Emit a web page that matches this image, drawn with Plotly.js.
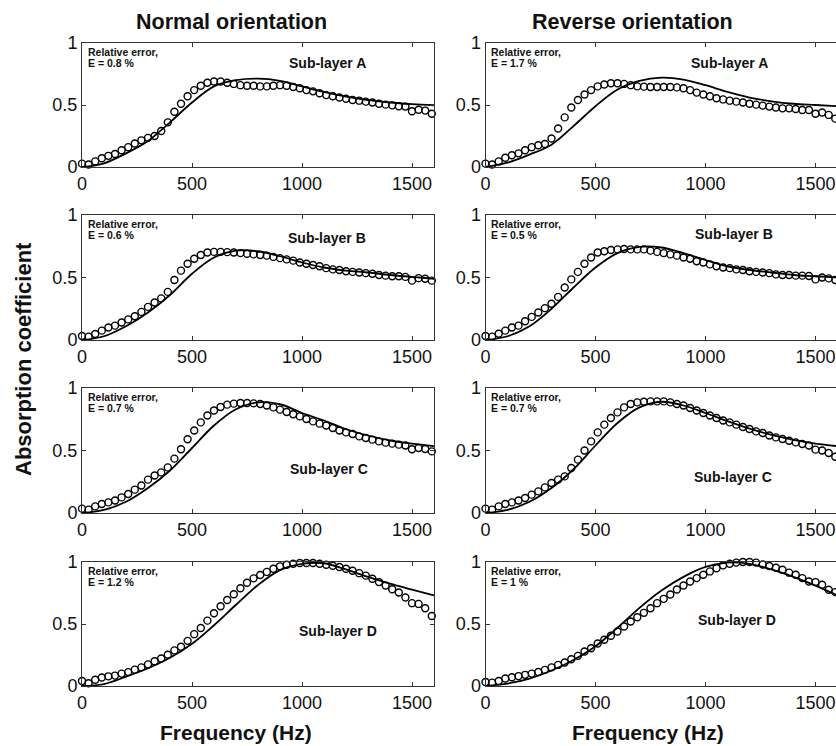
<!DOCTYPE html>
<html>
<head>
<meta charset="utf-8">
<script src="https://cdn.plot.ly/plotly-3.0.1.min.js"></script>
<style>html,body{margin:0;padding:0;background:#fff;}#chart{width:836px;height:746px;}</style>
</head>
<body>
<div id="chart"></div>
<script>
// Measured frequencies (Hz)
const freq = [0,30,60,90,120,150,180,210,240,270,300,330,360,390,420,450,480,510,540,570,600,630,660,690,720,750,780,810,840,870,900,930,960,990,1020,1050,1080,1110,1140,1170,1200,1230,1260,1290,1320,1350,1380,1410,1440,1470,1500,1530,1560,1590];
// Model frequencies (Hz)
const modelFreq = [0,100,200,300,400,500,600,700,800,900,1000,1100,1200,1300,1400,1500,1600];

// Normal orientation – measured (circles)
const measA_N = [0.027,0.02,0.045,0.07,0.09,0.105,0.135,0.16,0.19,0.215,0.235,0.25,0.29,0.36,0.445,0.51,0.57,0.62,0.655,0.68,0.69,0.69,0.68,0.67,0.66,0.655,0.655,0.65,0.65,0.655,0.66,0.655,0.645,0.635,0.62,0.61,0.595,0.58,0.57,0.56,0.55,0.54,0.535,0.527,0.52,0.51,0.503,0.497,0.49,0.487,0.45,0.462,0.455,0.43];
const measB_N = [0.032,0.027,0.048,0.075,0.1,0.115,0.14,0.165,0.19,0.225,0.265,0.3,0.333,0.385,0.48,0.555,0.61,0.65,0.68,0.7,0.705,0.705,0.703,0.7,0.695,0.69,0.685,0.68,0.675,0.665,0.655,0.645,0.635,0.62,0.61,0.6,0.59,0.575,0.565,0.56,0.55,0.545,0.54,0.535,0.53,0.52,0.515,0.51,0.51,0.505,0.475,0.495,0.49,0.475];
const measC_N = [0.035,0.027,0.053,0.072,0.085,0.1,0.125,0.152,0.187,0.22,0.267,0.3,0.325,0.365,0.435,0.51,0.59,0.66,0.725,0.78,0.82,0.848,0.867,0.875,0.88,0.88,0.877,0.872,0.86,0.845,0.827,0.808,0.79,0.773,0.752,0.733,0.715,0.7,0.68,0.66,0.645,0.632,0.613,0.6,0.587,0.573,0.563,0.555,0.547,0.54,0.51,0.52,0.512,0.493];
const measD_N = [0.04,0.022,0.05,0.068,0.078,0.084,0.1,0.112,0.132,0.15,0.174,0.2,0.222,0.252,0.287,0.317,0.364,0.418,0.468,0.527,0.587,0.643,0.694,0.74,0.788,0.833,0.868,0.895,0.92,0.946,0.965,0.978,0.986,0.992,0.992,0.992,0.986,0.978,0.97,0.96,0.946,0.93,0.91,0.89,0.865,0.838,0.81,0.78,0.754,0.714,0.668,0.662,0.627,0.565];

// Normal orientation – model (lines)
const modelA_N = [0,0.03,0.11,0.21,0.36,0.52,0.65,0.7,0.712,0.695,0.65,0.605,0.567,0.54,0.52,0.507,0.498];
const modelB_N = [0,0.03,0.11,0.22,0.36,0.53,0.66,0.715,0.71,0.67,0.62,0.58,0.555,0.54,0.52,0.505,0.49];
const modelC_N = [0,0.025,0.09,0.2,0.34,0.52,0.7,0.83,0.885,0.87,0.8,0.74,0.67,0.62,0.58,0.555,0.535];
const modelD_N = [0,0.016,0.075,0.143,0.228,0.34,0.49,0.655,0.815,0.935,0.985,0.99,0.94,0.88,0.825,0.777,0.73];

// Reverse orientation – measured (circles)
const measA_R = [0.027,0.02,0.045,0.075,0.095,0.11,0.135,0.16,0.175,0.185,0.23,0.31,0.4,0.48,0.54,0.585,0.62,0.65,0.665,0.675,0.675,0.67,0.66,0.65,0.648,0.645,0.645,0.645,0.645,0.642,0.635,0.62,0.6,0.585,0.57,0.555,0.545,0.535,0.527,0.52,0.51,0.503,0.495,0.487,0.48,0.473,0.473,0.468,0.46,0.46,0.43,0.44,0.42,0.39];
const measB_R = [0.032,0.027,0.05,0.075,0.1,0.115,0.15,0.185,0.22,0.255,0.29,0.345,0.42,0.485,0.545,0.61,0.66,0.7,0.71,0.72,0.725,0.728,0.725,0.725,0.725,0.715,0.705,0.695,0.685,0.675,0.66,0.65,0.63,0.62,0.605,0.59,0.58,0.575,0.565,0.56,0.55,0.545,0.54,0.535,0.525,0.52,0.52,0.515,0.515,0.512,0.485,0.5,0.493,0.48];
const measC_R = [0.035,0.027,0.053,0.072,0.085,0.1,0.12,0.147,0.173,0.205,0.24,0.267,0.293,0.36,0.427,0.5,0.573,0.645,0.707,0.76,0.805,0.845,0.872,0.885,0.89,0.893,0.893,0.893,0.885,0.872,0.86,0.84,0.82,0.8,0.78,0.76,0.74,0.725,0.707,0.688,0.672,0.653,0.64,0.62,0.605,0.592,0.578,0.565,0.552,0.54,0.507,0.5,0.48,0.45];
const measD_R = [0.032,0.027,0.04,0.06,0.07,0.08,0.09,0.1,0.113,0.13,0.15,0.17,0.19,0.216,0.243,0.278,0.305,0.343,0.373,0.405,0.44,0.48,0.52,0.554,0.59,0.627,0.668,0.703,0.738,0.778,0.81,0.843,0.87,0.897,0.924,0.95,0.973,0.986,0.995,1.0,1.0,0.995,0.98,0.968,0.954,0.938,0.914,0.897,0.87,0.843,0.838,0.816,0.776,0.757];

// Reverse orientation – model (lines)
const modelA_R = [0,0.035,0.1,0.18,0.33,0.49,0.625,0.695,0.72,0.705,0.66,0.605,0.56,0.53,0.51,0.5,0.49];
const modelB_R = [0,0.03,0.11,0.25,0.42,0.58,0.695,0.745,0.74,0.695,0.64,0.59,0.56,0.54,0.52,0.51,0.5];
const modelC_R = [0,0.025,0.09,0.2,0.35,0.54,0.72,0.845,0.89,0.86,0.8,0.735,0.675,0.625,0.585,0.555,0.535];
const modelD_R = [0,0.02,0.06,0.125,0.21,0.32,0.47,0.63,0.77,0.88,0.96,0.995,0.985,0.94,0.88,0.81,0.73];

// Labels
const columnTitles = ['Normal orientation', 'Reverse orientation'];
const layerNames = ['Sub-layer A', 'Sub-layer B', 'Sub-layer C', 'Sub-layer D'];
const errorsNormal = ['0.8', '0.6', '0.7', '1.2'];
const errorsReverse = ['1.7', '0.5', '0.7', '1'];
const xTicks = [0, 500, 1000, 1500];
const xTickText = ['0', '500', '1000', '1500'];
const yTicks = [0, 0.5, 1];
const yTickText = ['0', '0.5', '1'];

const W = 836, H = 746;
const FONT = '"Liberation Sans", Arial, Helvetica, sans-serif';

const panels = [
  {meas: measA_N, model: modelA_N, col: 0, row: 0, err: errorsNormal[0], lab: layerNames[0], lx: 1118, ly: 0.84},
  {meas: measA_R, model: modelA_R, col: 1, row: 0, err: errorsReverse[0], lab: layerNames[0], lx: 1110, ly: 0.84},
  {meas: measB_N, model: modelB_N, col: 0, row: 1, err: errorsNormal[1], lab: layerNames[1], lx: 1114, ly: 0.82},
  {meas: measB_R, model: modelB_R, col: 1, row: 1, err: errorsReverse[1], lab: layerNames[1], lx: 1131, ly: 0.85},
  {meas: measC_N, model: modelC_N, col: 0, row: 2, err: errorsNormal[2], lab: layerNames[2], lx: 1123, ly: 0.35},
  {meas: measC_R, model: modelC_R, col: 1, row: 2, err: errorsReverse[2], lab: layerNames[2], lx: 1124, ly: 0.29},
  {meas: measD_N, model: modelD_N, col: 0, row: 3, err: errorsNormal[3], lab: layerNames[3], lx: 1164, ly: 0.44},
  {meas: measD_R, model: modelD_R, col: 1, row: 3, err: errorsReverse[3], lab: layerNames[3], lx: 1141, ly: 0.53}
];

// Pixel geometry of plot boxes
const rowsPx = [[43, 167], [215, 340], [388, 513], [562, 686]];
const pxPerHz = 0.22;

const data = [];
const layout = {
  width: W, height: H,
  margin: {l: 0, r: 0, t: 0, b: 0},
  paper_bgcolor: '#fff', plot_bgcolor: '#fff',
  showlegend: false,
  font: {family: FONT, color: '#111'},
  annotations: []
};

panels.forEach((p, i) => {
  const k = i + 1;
  const xa = 'x' + k, ya = 'y' + k;
  const xName = 'xaxis' + (k === 1 ? '' : k);
  const yName = 'yaxis' + (k === 1 ? '' : k);
  let x0, x1, xmax;
  if (p.col === 0) { x0 = 82; x1 = 434; xmax = 1600; }
  else { x0 = 485.5; x1 = W; xmax = (W - x0) / pxPerHz; }
  const [top, bot] = rowsPx[p.row];
  layout[xName] = {
    domain: [x0 / W, x1 / W], range: [0, xmax], anchor: ya,
    tickvals: xTicks, ticktext: xTickText,
    ticks: 'inside', ticklen: 4, tickwidth: 1, tickcolor: '#333',
    showline: true, linecolor: '#333', linewidth: 1,
    mirror: 'allticks', showgrid: false, zeroline: false,
    ticklabeloverflow: 'allow',
    tickfont: {family: FONT, size: 18, color: '#111'}
  };
  layout[yName] = {
    domain: [1 - bot / H, 1 - top / H], range: [0, 1], anchor: xa,
    tickvals: yTicks, ticktext: yTickText,
    ticks: 'inside', ticklen: 4, tickwidth: 1, tickcolor: '#333',
    showline: true, linecolor: '#333', linewidth: 1,
    mirror: p.col === 0 ? 'allticks' : false, showgrid: false, zeroline: false,
    ticklabeloverflow: 'allow',
    tickfont: {family: FONT, size: 18, color: '#111'}
  };
  data.push({
    x: modelFreq, y: p.model, xaxis: xa, yaxis: ya, type: 'scatter', mode: 'lines',
    line: {color: '#000', width: 1.8, shape: 'spline', smoothing: 1}, hoverinfo: 'skip'
  });
  data.push({
    x: freq, y: p.meas, xaxis: xa, yaxis: ya, type: 'scatter', mode: 'markers',
    cliponaxis: false,
    marker: {symbol: 'circle-open', size: 7, color: '#000', line: {color: '#000', width: 1.4}}
  });
  const ex = p.col === 0 ? 0.011 : 0.01;
  layout.annotations.push({
    xref: xa + ' domain', yref: ya + ' domain', x: ex, y: 0.927, xanchor: 'left', yanchor: 'middle',
    text: '<b>Relative error,</b>', showarrow: false, font: {family: FONT, size: 10.5, color: '#111'}
  });
  layout.annotations.push({
    xref: xa + ' domain', yref: ya + ' domain', x: ex, y: 0.839, xanchor: 'left', yanchor: 'middle',
    text: '<b>E = ' + p.err + ' %</b>', showarrow: false, font: {family: FONT, size: 10.5, color: '#111'}
  });
  layout.annotations.push({
    xref: xa, yref: ya, x: p.lx, y: p.ly, xanchor: 'center', yanchor: 'middle',
    text: '<b>' + p.lab + '</b>', showarrow: false, font: {family: FONT, size: 14, color: '#111'}
  });
});

// Column titles
layout.annotations.push({xref: 'paper', yref: 'paper', x: 231 / W, y: 1 - 22 / H, xanchor: 'center', yanchor: 'middle',
  text: '<b>' + columnTitles[0] + '</b>', showarrow: false, font: {family: FONT, size: 21.5, color: '#111'}});
layout.annotations.push({xref: 'paper', yref: 'paper', x: 632 / W, y: 1 - 22 / H, xanchor: 'center', yanchor: 'middle',
  text: '<b>' + columnTitles[1] + '</b>', showarrow: false, font: {family: FONT, size: 21.5, color: '#111'}});
// X axis titles
layout.annotations.push({xref: 'paper', yref: 'paper', x: 236 / W, y: 1 - 732 / H, xanchor: 'center', yanchor: 'middle',
  text: '<b>Frequency (Hz)</b>', showarrow: false, font: {family: FONT, size: 21, color: '#111'}});
layout.annotations.push({xref: 'paper', yref: 'paper', x: 648 / W, y: 1 - 732 / H, xanchor: 'center', yanchor: 'middle',
  text: '<b>Frequency (Hz)</b>', showarrow: false, font: {family: FONT, size: 21, color: '#111'}});
// Y axis title
layout.annotations.push({xref: 'paper', yref: 'paper', x: 23 / W, y: 1 - 359 / H, xanchor: 'center', yanchor: 'middle',
  textangle: -90, text: '<b>Absorption coefficient</b>', showarrow: false, font: {family: FONT, size: 22, color: '#111'}});

Plotly.newPlot('chart', data, layout, {staticPlot: true, displayModeBar: false});
</script>
</body>
</html>
